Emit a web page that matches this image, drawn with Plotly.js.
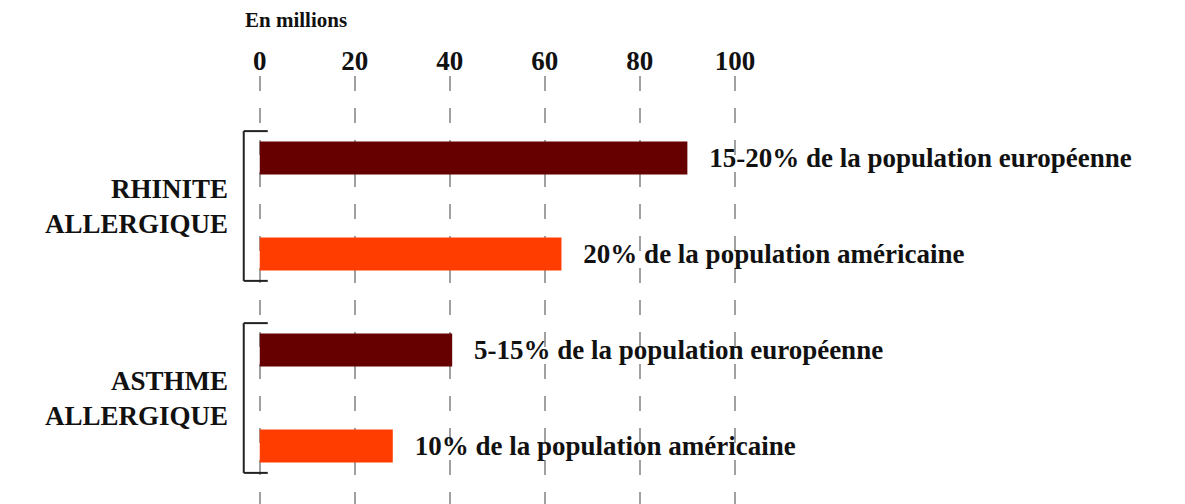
<!DOCTYPE html>
<html><head><meta charset="utf-8">
<script src="https://cdn.plot.ly/plotly-3.0.1.min.js"></script>
<style>html,body{margin:0;padding:0;background:#fff}#chart{width:1185px;height:504px}</style>
</head><body><div id="chart"></div>
<script>
const categories = ["RHINITE ALLERGIQUE", "ASTHME ALLERGIQUE"];
const categoryLabels = ["RHINITE<br>ALLERGIQUE", "ASTHME<br>ALLERGIQUE"];
const europeValues = [90, 40.5];
const usValues = [63.5, 28];
const europeLabels = ["15-20% de la population européenne", "5-15% de la population européenne"];
const usLabels = ["20% de la population américaine", "10% de la population américaine"];
const xTicks = [0, 20, 40, 60, 80, 100];
const axisTitle = "En millions";

const serif = "'Liberation Serif', 'DejaVu Serif', serif";
const gap = "\u00a0\u00a0\u2009";

const traces = [
  {type: "bar", orientation: "h", name: "Europe", y: categories, x: europeValues,
   text: europeLabels, texttemplate: gap + "%{text}", textposition: "outside",
   cliponaxis: false, constraintext: "none",
   textfont: {family: serif, size: 27, color: "#111", weight: "bold"},
   marker: {color: "#660000"}, hoverinfo: "x+name"},
  {type: "bar", orientation: "h", name: "USA", y: categories, x: usValues,
   text: usLabels, texttemplate: gap + "%{text}", textposition: "outside",
   cliponaxis: false, constraintext: "none",
   textfont: {family: serif, size: 27, color: "#111", weight: "bold"},
   marker: {color: "#FF3D00"}, hoverinfo: "x+name"}
];

const ml = 260 - 4.75;
const pw = 1185 - ml;
const shapes = [];
const xb = (244 - ml) / pw, xe = (268 - ml) / pw, h = 0.39;
categories.forEach((c, i) => {
  const ln = {color: "#222", width: 2};
  shapes.push({type: "line", xref: "paper", yref: "y", x0: xb, x1: xb, y0: i - h, y1: i + h, line: ln});
  shapes.push({type: "line", xref: "paper", yref: "y", x0: xb, x1: xe, y0: i - h, y1: i - h, line: ln});
  shapes.push({type: "line", xref: "paper", yref: "y", x0: xb, x1: xe, y0: i + h, y1: i + h, line: ln});
});

const layout = {
  width: 1185, height: 504,
  margin: {l: ml, r: 0, t: 76, b: 0},
  paper_bgcolor: "#fff", plot_bgcolor: "#fff",
  showlegend: false,
  barmode: "group", bargap: 0, bargroupgap: 0.656,
  xaxis: {side: "top", range: [-1, -1 + pw / 4.75], tickvals: xTicks,
    showgrid: true, gridcolor: "#a0a0a0", gridwidth: 1.5, griddash: "15px,17px",
    zeroline: false, showline: false, ticks: "",
    tickfont: {family: serif, size: 27, color: "#111", weight: "bold"}},
  yaxis: {type: "category", categoryarray: categories, tickvals: categories, ticktext: categoryLabels,
    range: [1.552, -0.677], showgrid: false, zeroline: false, showline: false, ticks: "",
    ticklabelstandoff: 26,
    tickfont: {family: serif, size: 27, color: "#111", weight: "bold"}},
  shapes: shapes,
  annotations: [{text: axisTitle, xref: "paper", yref: "paper", x: (243 - ml) / pw, y: 1 + 56 / 428,
    xanchor: "left", yanchor: "middle", showarrow: false,
    font: {family: serif, size: 21, color: "#111", weight: "bold"}}]
};

Plotly.newPlot("chart", traces, layout, {displayModeBar: false, responsive: false});
</script></body></html>
